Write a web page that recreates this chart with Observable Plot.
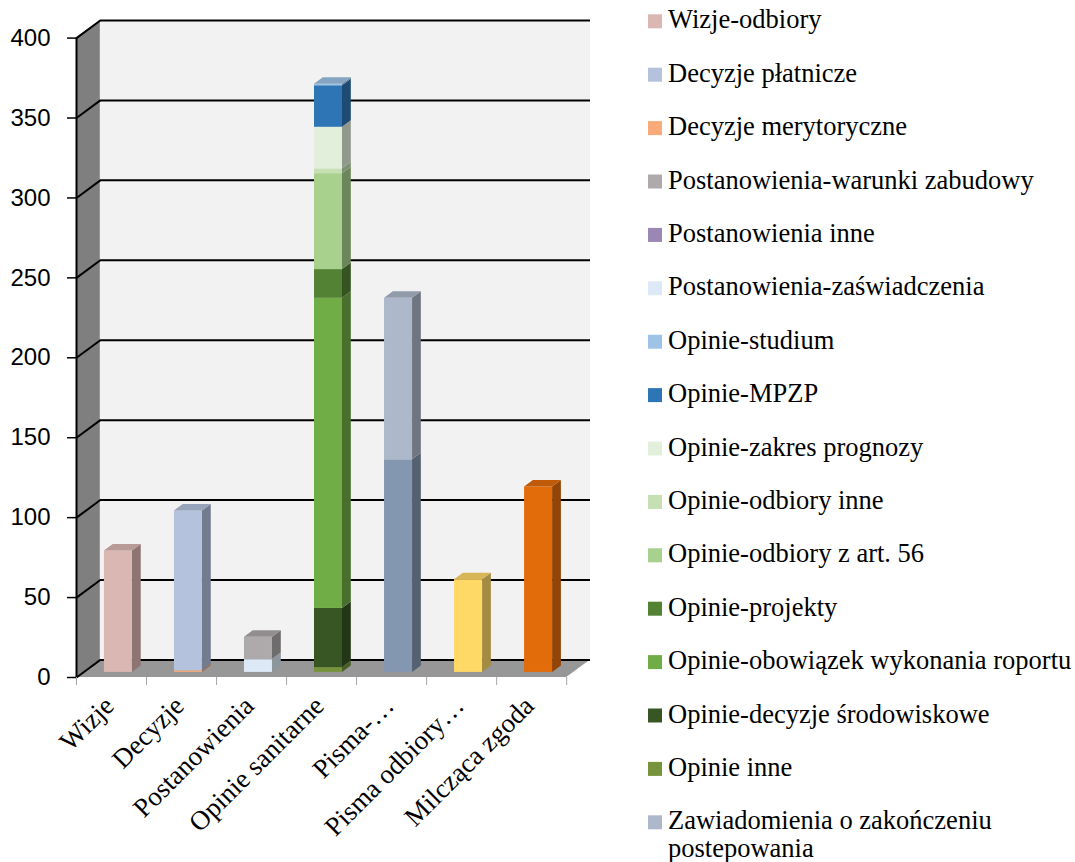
<!DOCTYPE html>
<html>
<head>
<meta charset="utf-8">
<script src="https://cdn.jsdelivr.net/npm/d3@7"></script>
<script src="https://cdn.jsdelivr.net/npm/@observablehq/plot@0.6"></script>
<style>
  html, body { margin: 0; padding: 0; background: #fff; overflow: hidden; }
  #wrap { position: relative; width: 1075px; height: 862px; overflow: hidden; }
  #chart, #legend { position: absolute; left: 0; top: 0; }
</style>
</head>
<body>
<div id="wrap">
  <div id="chart"></div>
  <svg id="legend"></svg>
</div>
<script>
// Categories along the x axis
const categories = ["Wizje", "Decyzje", "Postanowienia", "Opinie sanitarne", "Pisma-…", "Pisma odbiory…", "Milcząca zgoda"];

// One array per series, one value per category (legend order; stacked in reverse)
const wizjeOdbiory            = [76, 0, 0, 0, 0, 0, 0];
const decyzjePlatnicze        = [0, 100, 0, 0, 0, 0, 0];
const decyzjeMerytoryczne     = [0, 1, 0, 0, 0, 0, 0];
const postWarunkiZabudowy     = [0, 0, 14, 0, 0, 0, 0];
const postInne                = [0, 0, 0, 0, 0, 0, 0];
const postZaswiadczenia       = [0, 0, 8, 0, 0, 0, 0];
const opinieStudium           = [0, 0, 0, 1, 0, 0, 0];
const opinieMPZP              = [0, 0, 0, 26, 0, 0, 0];
const opinieZakresPrognozy    = [0, 0, 0, 26, 0, 0, 0];
const opinieOdbioryInne       = [0, 0, 0, 3, 0, 0, 0];
const opinieOdbioryArt56      = [0, 0, 0, 60, 0, 0, 0];
const opinieProjekty          = [0, 0, 0, 18, 0, 0, 0];
const opinieObowiazekRaportu  = [0, 0, 0, 194, 0, 0, 0];
const opinieDecyzjeSrodowisk  = [0, 0, 0, 37, 0, 0, 0];
const opinieInne              = [0, 0, 0, 3, 0, 0, 0];
const zawiadomienia           = [0, 0, 0, 0, 101, 0, 0];
const pisma                   = [0, 0, 0, 0, 133, 0, 0];
const pismaOdbiory            = [0, 0, 0, 0, 0, 58, 0];
const milczacaZgoda           = [0, 0, 0, 0, 0, 0, 116];

const seriesNames = [
  "Wizje-odbiory", "Decyzje płatnicze", "Decyzje merytoryczne",
  "Postanowienia-warunki zabudowy", "Postanowienia inne", "Postanowienia-zaświadczenia",
  "Opinie-studium", "Opinie-MPZP", "Opinie-zakres prognozy", "Opinie-odbiory inne",
  "Opinie-odbiory z art. 56", "Opinie-projekty", "Opinie-obowiązek wykonania roportu",
  "Opinie-decyzje środowiskowe", "Opinie inne", "Zawiadomienia o zakończeniu postepowania",
  "Pisma", "Pisma odbiory", "Milcząca zgoda"
];
const seriesValues = [
  wizjeOdbiory, decyzjePlatnicze, decyzjeMerytoryczne,
  postWarunkiZabudowy, postInne, postZaswiadczenia,
  opinieStudium, opinieMPZP, opinieZakresPrognozy, opinieOdbioryInne,
  opinieOdbioryArt56, opinieProjekty, opinieObowiazekRaportu,
  opinieDecyzjeSrodowisk, opinieInne, zawiadomienia,
  pisma, pismaOdbiory, milczacaZgoda
];
const seriesColors = [
  "#dbb7b4", "#b4c2de", "#f9aa79",
  "#aea9aa", "#9b87b4", "#dde9f6",
  "#9dc3e6", "#2e75b6", "#e2efda", "#c6e0b4",
  "#a9d18e", "#548235", "#70ad47",
  "#375623", "#77933c", "#adb9ca",
  "#8497b0", "#ffd966", "#e36c0a"
];
const yTicks = [0, 50, 100, 150, 200, 250, 300, 350, 400];

// Box geometry for the pseudo-3D look (x in category units, y in value units)
const DX = 0.34, DY = 11;       // depth offset of the back wall
const F0 = 0.29, BD = 0.37;     // bar front depth and bar thickness, as fractions of the depth
const BAR_L = 0.3, BAR_R = 0.7; // bar extent inside each category slot
const YMAX = 400;

const shade = (c, k) => { const r = d3.rgb(c); return d3.rgb(r.r * k, r.g * k, r.b * k).formatHex(); };

// Stack the series for each category (last series at the bottom)
const segments = [];
categories.forEach((cat, i) => {
  let base = 0;
  for (let s = seriesNames.length - 1; s >= 0; s--) {
    const v = seriesValues[s][i];
    if (!v) continue;
    segments.push({i, s, lo: base, hi: base + v, color: seriesColors[s]});
    base += v;
  }
});
const tops = categories.map((_, i) => segments.filter(d => d.i === i).at(-1)).filter(Boolean);

const sideFaces = segments.flatMap((d, k) => [F0, F0 + BD].map(t => ({
  id: k, x: d.i + BAR_R + t * DX, y1: d.lo + t * DY, y2: d.hi + t * DY, fill: shade(d.color, 0.64)
})));
const topFaces = tops.flatMap((d, k) => [F0, F0 + BD].map(t => ({
  id: k, y: d.hi + t * DY, x1: d.i + BAR_L + t * DX, x2: d.i + BAR_R + t * DX, fill: shade(d.color, 0.84)
})));

const n = categories.length;
const wallSide = [{x: 0, y1: 0, y2: YMAX}, {x: DX, y1: DY, y2: YMAX + DY}];
const floor = [{y: 0, x1: 0, x2: n}, {y: DY, x1: DX, x2: n + DX}];

const chart = Plot.plot({
  width: 600,
  height: 862,
  marginLeft: 76,
  marginRight: 10,
  marginTop: 20,
  marginBottom: 185,
  style: {fontFamily: "Liberation Sans", background: "transparent"},
  x: {domain: [0, n + DX]},
  y: {domain: [0, YMAX + DY]},
  color: {type: "identity"},
  marks: [
    // back wall, side wall and floor
    Plot.rect([0], {x1: DX, x2: n + DX, y1: DY, y2: YMAX + DY, fill: "#f2f2f2"}),
    Plot.areaY(wallSide, {x: "x", y1: "y1", y2: "y2", fill: "#7f7f7f"}),
    Plot.areaX(floor, {y: "y", x1: "x1", x2: "x2", fill: "#979797"}),
    // gridlines on the back wall and across the side wall
    Plot.ruleY(yTicks, {y: v => v + DY, x1: DX, x2: n + DX, stroke: "#000", strokeWidth: 2}),
    Plot.link(yTicks, {x1: 0, y1: v => v, x2: DX, y2: v => v + DY, stroke: "#000", strokeWidth: 2}),
    Plot.ruleX([0], {y1: 0, y2: YMAX, stroke: "#000", strokeWidth: 2}),
    // axes
    Plot.axisY({ticks: yTicks, tickSize: 9, tickPadding: 17, fontSize: 24, label: null, strokeWidth: 1.5}),
    Plot.axisX({ticks: d3.range(n + 1), tickSize: 8, tickFormat: () => "", stroke: "#a6a6a6", label: null}),
    // bars: sides, fronts, tops
    Plot.areaY(sideFaces, {x: "x", y1: "y1", y2: "y2", z: "id", fill: "fill"}),
    Plot.rect(segments, {
      x1: d => d.i + BAR_L + F0 * DX, x2: d => d.i + BAR_R + F0 * DX,
      y1: d => d.lo + F0 * DY, y2: d => d.hi + F0 * DY, fill: "color"
    }),
    Plot.areaX(topFaces, {y: "y", x1: "x1", x2: "x2", z: "id", fill: "fill"}),
    // category labels
    Plot.text(categories, {
      x: (d, i) => i + 0.5 + F0 * DX, y: 0, text: d => d,
      rotate: -45, textAnchor: "end", lineAnchor: "bottom", dx: -3, dy: 30,
      fontSize: 27, fontFamily: "Liberation Serif", fill: "#000"
    })
  ]
});
document.getElementById("chart").appendChild(chart);

// Legend on the right; entries that do not fit in the frame are left out
const LEG_X = 648, LEG_Y0 = 28.3, LEG_STEP = 53.4, LEG_MAXW = 407, HEIGHT = 862;
const leg = d3.select("#legend").attr("width", 1075).attr("height", HEIGHT);
seriesNames.forEach((name, k) => {
  const base = LEG_Y0 + LEG_STEP * k;
  if (base > HEIGHT) return;
  leg.append("rect").attr("x", LEG_X).attr("y", base - 14).attr("width", 14).attr("height", 14)
    .attr("fill", seriesColors[k]);
  const text = leg.append("text").attr("x", LEG_X + 20).attr("y", base)
    .attr("font-family", "Liberation Serif").attr("font-size", 26.5).attr("fill", "#000");
  // simple word wrap to the legend width
  const words = name.split(" ");
  let line = [], tspan = text.append("tspan").attr("x", LEG_X + 20).attr("dy", 0);
  for (const w of words) {
    line.push(w);
    tspan.text(line.join(" "));
    if (tspan.node().getComputedTextLength() > LEG_MAXW && line.length > 1) {
      line.pop();
      tspan.text(line.join(" "));
      line = [w];
      tspan = text.append("tspan").attr("x", LEG_X + 20).attr("dy", 28).text(w);
    }
  }
});
</script>
</body>
</html>
